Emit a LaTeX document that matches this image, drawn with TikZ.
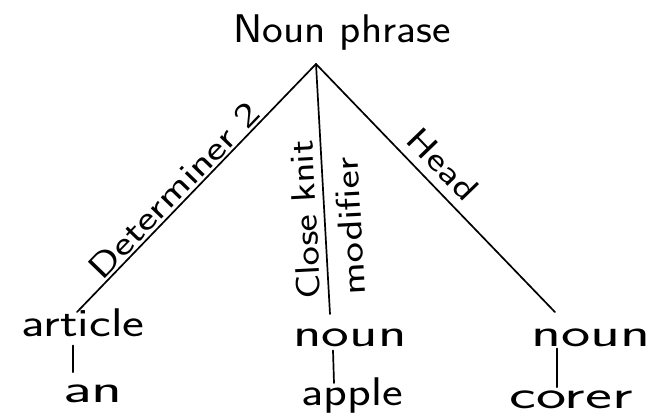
\documentclass[tikz,border=0pt]{standalone}
\usepackage{fontspec}
\usepackage{graphicx}
\newcommand{\hwtext}[2]{\scalebox{#1}[1]{#2}}
\tikzset{
  word/.style={inner sep=0pt, anchor=base, font=\sffamily\fontsize{40}{44}\selectfont},
  lab/.style={inner sep=0pt, font=\sffamily\fontsize{34}{38}\selectfont},
  link/.style={line width=1.7pt, line cap=round}
}
\begin{document}
\begin{tikzpicture}[x=1pt,y=1pt]
\useasboundingbox (0,0) rectangle (662,419);
% nodes
\node[word] (np) at (342,376) {\hwtext{1.1}{Noun phrase}};
\coordinate (apex) at (316,355);
\node[word] (art) at (83,82) {\hwtext{1.3}{article}};
\node[word] (an) at (93,16) {\hwtext{1.6}{an}};
\node[word] (n1) at (350,72) {\hwtext{1.47}{noun}};
\node[word] (apple) at (352,13) {\hwtext{1.23}{apple}};
\node[word] (n2) at (591,72) {\hwtext{1.55}{noun}};
\node[word] (corer) at (571,10) {\hwtext{1.6}{corer}};
% connectors
\draw[link] (apex) -- ([xshift=-6pt,yshift=-3pt]art.north);
\draw[link] (apex) -- ([xshift=-20pt,yshift=15pt]n1.north);
\draw[link] (apex) -- ([xshift=-36pt,yshift=17pt]n2.north);
\draw[link] ([xshift=-10pt,yshift=-8pt]art.south) -- ([xshift=-20pt,yshift=13pt]an.north);
\draw[link] ([xshift=-17pt,yshift=-3pt]n1.south) -- ([xshift=-18pt,yshift=-5pt]apple.north);
\draw[link] ([xshift=-34pt,yshift=-1pt]n2.south) -- ([xshift=-14pt,yshift=4pt]corer.north);
% labels
\node[lab, rotate=46] (det) at (174,229) {\hwtext{1.32}{Determiner 2}};
\node[lab, rotate=93] (ck) at (305,199) {\hwtext{1.2}{Close knit}};
\node[lab, rotate=93] (mod) at (350,193) {\hwtext{1.27}{modifier}};
\node[lab, rotate=-46] (head) at (443,255) {\hwtext{1.25}{Head}};
\end{tikzpicture}
\end{document}
